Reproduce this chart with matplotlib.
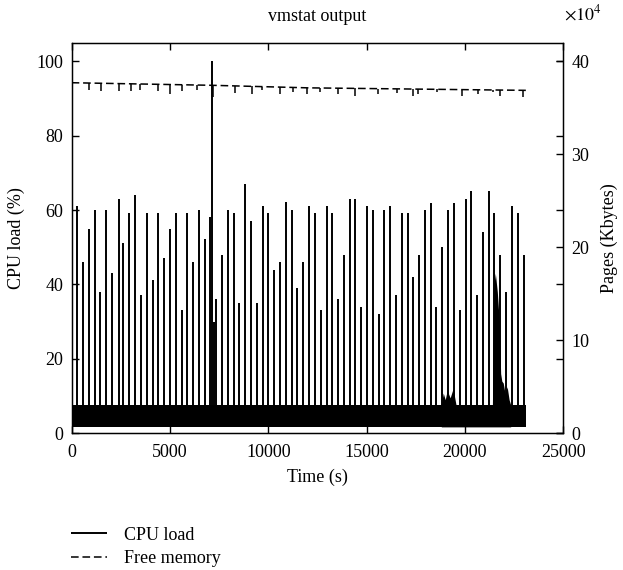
import numpy as np
import matplotlib
matplotlib.use('Agg')
import matplotlib.pyplot as plt
from matplotlib.ticker import FuncFormatter

plt.rcParams['font.family'] = ['Liberation Serif', 'DejaVu Serif']
plt.rcParams['mathtext.fontset'] = 'stix'

# CPU load spikes (s, %)
spike_t = [15, 249, 575, 895, 1165, 1439, 1744, 2050, 2385, 2624, 2930, 3235,
           3525, 3830, 4115, 4405, 4710, 5000, 5305, 5590, 5864, 6170, 6474,
           6780, 7049, 7136, 7217, 7339, 7644, 7950, 8255, 8524, 8829, 9119,
           9424, 9709, 9999, 10304, 10594, 10899, 11184, 11474, 11780, 12085,
           12374, 12659, 12964, 13254, 13559, 13864, 14154, 14424, 14729,
           15034, 15324, 15609, 15899, 16189, 16494, 16799, 17084, 17374,
           17679, 17969, 18274, 18543, 18849, 19138, 19444, 19764, 20034,
           20324, 20629, 20919, 21224, 21494, 21784, 22104, 22394, 22679, 22984]
spike_h = [36.3, 61.1, 46.0, 55.0, 59.9, 38.0, 59.9, 43.1, 62.9, 51.2, 59.1, 64.0,
           37.1, 59.1, 41.1, 59.1, 47.0, 55.0, 59.1, 33.1, 59.1, 46.0, 59.9,
           52.1, 58.1, 100.0, 29.9, 36.0, 48.0, 59.9, 59.1, 34.9, 66.9, 57.1,
           34.9, 61.1, 59.1, 44.0, 46.0, 62.2, 59.9, 39.1, 46.0, 61.1,
           59.1, 33.1, 61.0, 59.1, 36.0, 48.0, 63.1, 63.1, 34.0,
           61.1, 59.9, 32.0, 59.9, 61.0, 37.1, 59.1, 59.1, 42.0,
           48.0, 59.9, 62.0, 34.0, 50.1, 59.9, 62.0, 33.1, 62.9,
           65.1, 37.1, 54.1, 65.1, 59.1, 48.0, 38.0, 61.0, 59.1, 48.0]

# idle noise band
band_t = [0, 23100]
band_lo = [1.7, 1.7]
band_hi = [7.6, 7.6]

# bursts of sustained load
burst_t = [18800, 18900, 19000, 19100, 19250, 19400, 19550, 21400, 21480, 21550,
           21650, 21750, 21820, 21880, 21950, 22050, 22150, 22250, 22330]
burst_v = [7.6, 10.8, 9.0, 11.5, 9.5, 12.0, 7.6, 7.6, 40.0, 43.0,
           38.0, 30.0, 16.0, 14.0, 13.5, 10.5, 12.5, 9.0, 7.6]

# free memory (Kbytes)
mem_t = [0, 7200, 12000, 23100]
mem_v = [377000, 374200, 371500, 368800]
dip_t = [895, 1490, 2420, 3015, 3475, 4405, 5000, 5595, 6355, 7200, 8305, 9155,
         9665, 10595, 11270, 11950, 12630, 13560, 14410, 15595, 16530, 17375,
         17630, 18565, 19835, 20680, 21445, 21785, 22970]
dip_top = [376700, 376400, 376100, 375800, 375700, 375300, 375100, 374800, 374500,
           374200, 373600, 373100, 372800, 372300, 371900, 371500, 371300, 371100,
           370900, 370600, 370300, 370100, 370100, 369800, 369500, 369300, 369200,
           369100, 368800]
dip_bot = [369600, 367700, 367700, 367700, 369600, 367700, 365300, 367700, 368800,
           362000, 365900, 365300, 368800, 365300, 367000, 365300, 367000, 365300,
           362700, 365300, 365900, 362700, 365300, 367000, 362700, 365300, 367000,
           362700, 361600]

fig = plt.figure(figsize=(6.23, 5.70), dpi=100)
ax = fig.add_axes([0.115, 0.240, 0.789, 0.685])
ax2 = ax.twinx()

ax.fill_between(band_t, band_lo, band_hi, color='k', lw=0)
ax.fill_between(burst_t, band_lo[0], burst_v, color='k', lw=0)
ax.vlines(spike_t, band_lo[0], spike_h, color='k', lw=1.4, label='CPU load')

ax2.plot(mem_t, mem_v, color='k', lw=1.1, ls=(0, (5, 2.5)), label='Free memory')
ax2.vlines(dip_t, dip_bot, dip_top, color='k', lw=1.1)

ax.set_xlim(0, 25000)
ax.set_ylim(0, 105)
ax2.set_ylim(0, 420000)
ax.set_xticks(np.arange(0, 25001, 5000))
ax.set_yticks(np.arange(0, 101, 20))
ax2.set_yticks(np.arange(0, 400001, 100000))
ax2.yaxis.set_major_formatter(FuncFormatter(lambda v, pos: '%d' % round(v / 1e4)))

fs = 13
ax.tick_params(direction='in', length=5, width=1, labelsize=fs, top=True, right=True, pad=6)
ax.tick_params(axis='x', pad=8)
ax2.tick_params(direction='in', length=5, width=1, labelsize=fs, pad=6)
for sp in ax.spines.values():
    sp.set_linewidth(1.0)

ax.set_title('vmstat output', fontsize=fs, pad=16)
ax.set_xlabel('Time (s)', fontsize=fs, labelpad=5)
ax.set_ylabel('CPU load (%)', fontsize=fs, labelpad=8)
ax2.set_ylabel('Pages (Kbytes)', fontsize=fs, labelpad=8)
fig.text(0.906, 0.975, r'$\times10^{4}$', fontsize=fs, ha='left', va='center')

h1, l1 = ax.get_legend_handles_labels()
h2, l2 = ax2.get_legend_handles_labels()
fig.legend(h1 + h2, l1 + l2, loc='upper left', bbox_to_anchor=(0.10, 0.092),
           frameon=False, fontsize=fs, handlelength=2.0, handletextpad=0.9,
           labelspacing=0.38, borderpad=0)

fig.savefig('out.png', dpi=100)
